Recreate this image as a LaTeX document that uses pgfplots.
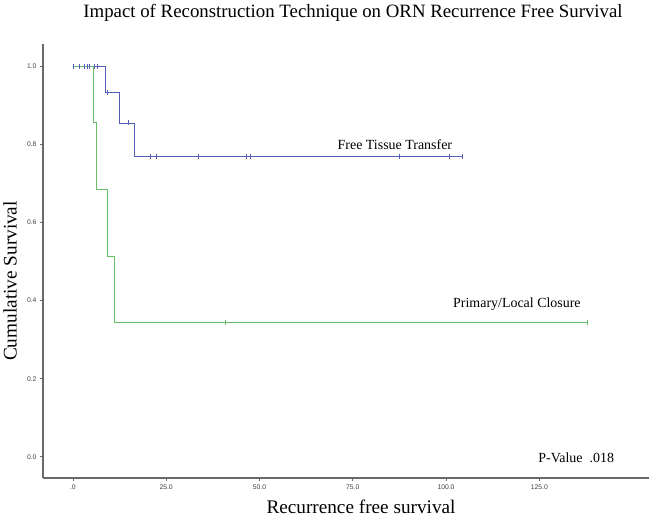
\documentclass[border=0pt]{standalone}
\usepackage{pgfplots}
\pgfplotsset{compat=1.18}
\usepackage{fontspec}
\setmainfont{Liberation Serif}
\newfontfamily\arial{Liberation Sans}
\definecolor{kmblue}{RGB}{85,95,185}
\definecolor{kmgreen}{RGB}{105,190,105}
\definecolor{axgray}{RGB}{105,105,105}
\begin{document}
\begin{tikzpicture}[x=1bp,y=1bp]
\useasboundingbox (-43,-40) rectangle (606,478);
\begin{axis}[
  at={(0,0)}, anchor=south west,
  scale only axis, width=606bp, height=434bp,
  xmin=-8.0, xmax=154.4, ymin=-0.0546, ymax=1.058,
  axis lines=left,
  axis line style={-, draw=axgray, line width=1.4bp},
  xtick={0,25,50,75,100,125},
  xticklabels={.0,25.0,50.0,75.0,100.0,125.0},
  ytick={0,0.2,0.4,0.6,0.8,1.0},
  yticklabels={0.0,0.2,0.4,0.6,0.8,1.0},
  tick style={draw=axgray, line width=0.6bp},
  tick align=outside, major tick length=3bp,
  tick label style={font=\arial\fontsize{6.8}{7}\selectfont, text=black!75},
  clip=false,
]
% Free Tissue Transfer
\addplot[const plot, kmblue, line width=0.8bp] coordinates {
 (0,1) (8.8,0.9333) (12.6,0.8556) (16.6,0.77) (104.5,0.77)};
\addplot[only marks, mark=|, mark size=2.5bp, kmblue, mark options={line width=0.7bp}] coordinates {
 (0,1) (1.8,1) (3.0,1) (3.8,1) (4.5,1) (5.7,1) (6.5,1)
 (9.2,0.9333) (14.9,0.8556)
 (20.8,0.77) (22.5,0.77) (33.7,0.77) (46.6,0.77) (47.6,0.77) (87.4,0.77) (100.9,0.77) (104.5,0.77)};
% Primary/Local Closure
\addplot[const plot, kmgreen, line width=0.8bp] coordinates {
 (0,1) (5.6,0.857) (6.3,0.686) (9.3,0.514) (11.0,0.343) (137.8,0.343)};
\addplot[only marks, mark=|, mark size=2.5bp, kmgreen, mark options={line width=0.7bp}] coordinates {
 (40.8,0.343) (137.8,0.343)};
\node[font=\fontsize{14}{16}\selectfont] at (axis cs:86.3,0.80) {Free Tissue Transfer};
\node[font=\fontsize{14}{16}\selectfont] at (axis cs:119,0.390) {Primary/Local Closure};
\node[font=\fontsize{14}{16}\selectfont] at (axis cs:134.9,-0.003) {P-Value\ \ .018};
\end{axis}
\node[font=\fontsize{18.9}{22}\selectfont] at (310,465) {Impact of Reconstruction Technique on ORN Recurrence Free Survival};
\node[font=\fontsize{19.3}{22}\selectfont] at (318,-29) {Recurrence free survival};
\node[font=\fontsize{19.3}{22}\selectfont, rotate=90] at (-33,197) {Cumulative Survival};
\end{tikzpicture}
\end{document}
